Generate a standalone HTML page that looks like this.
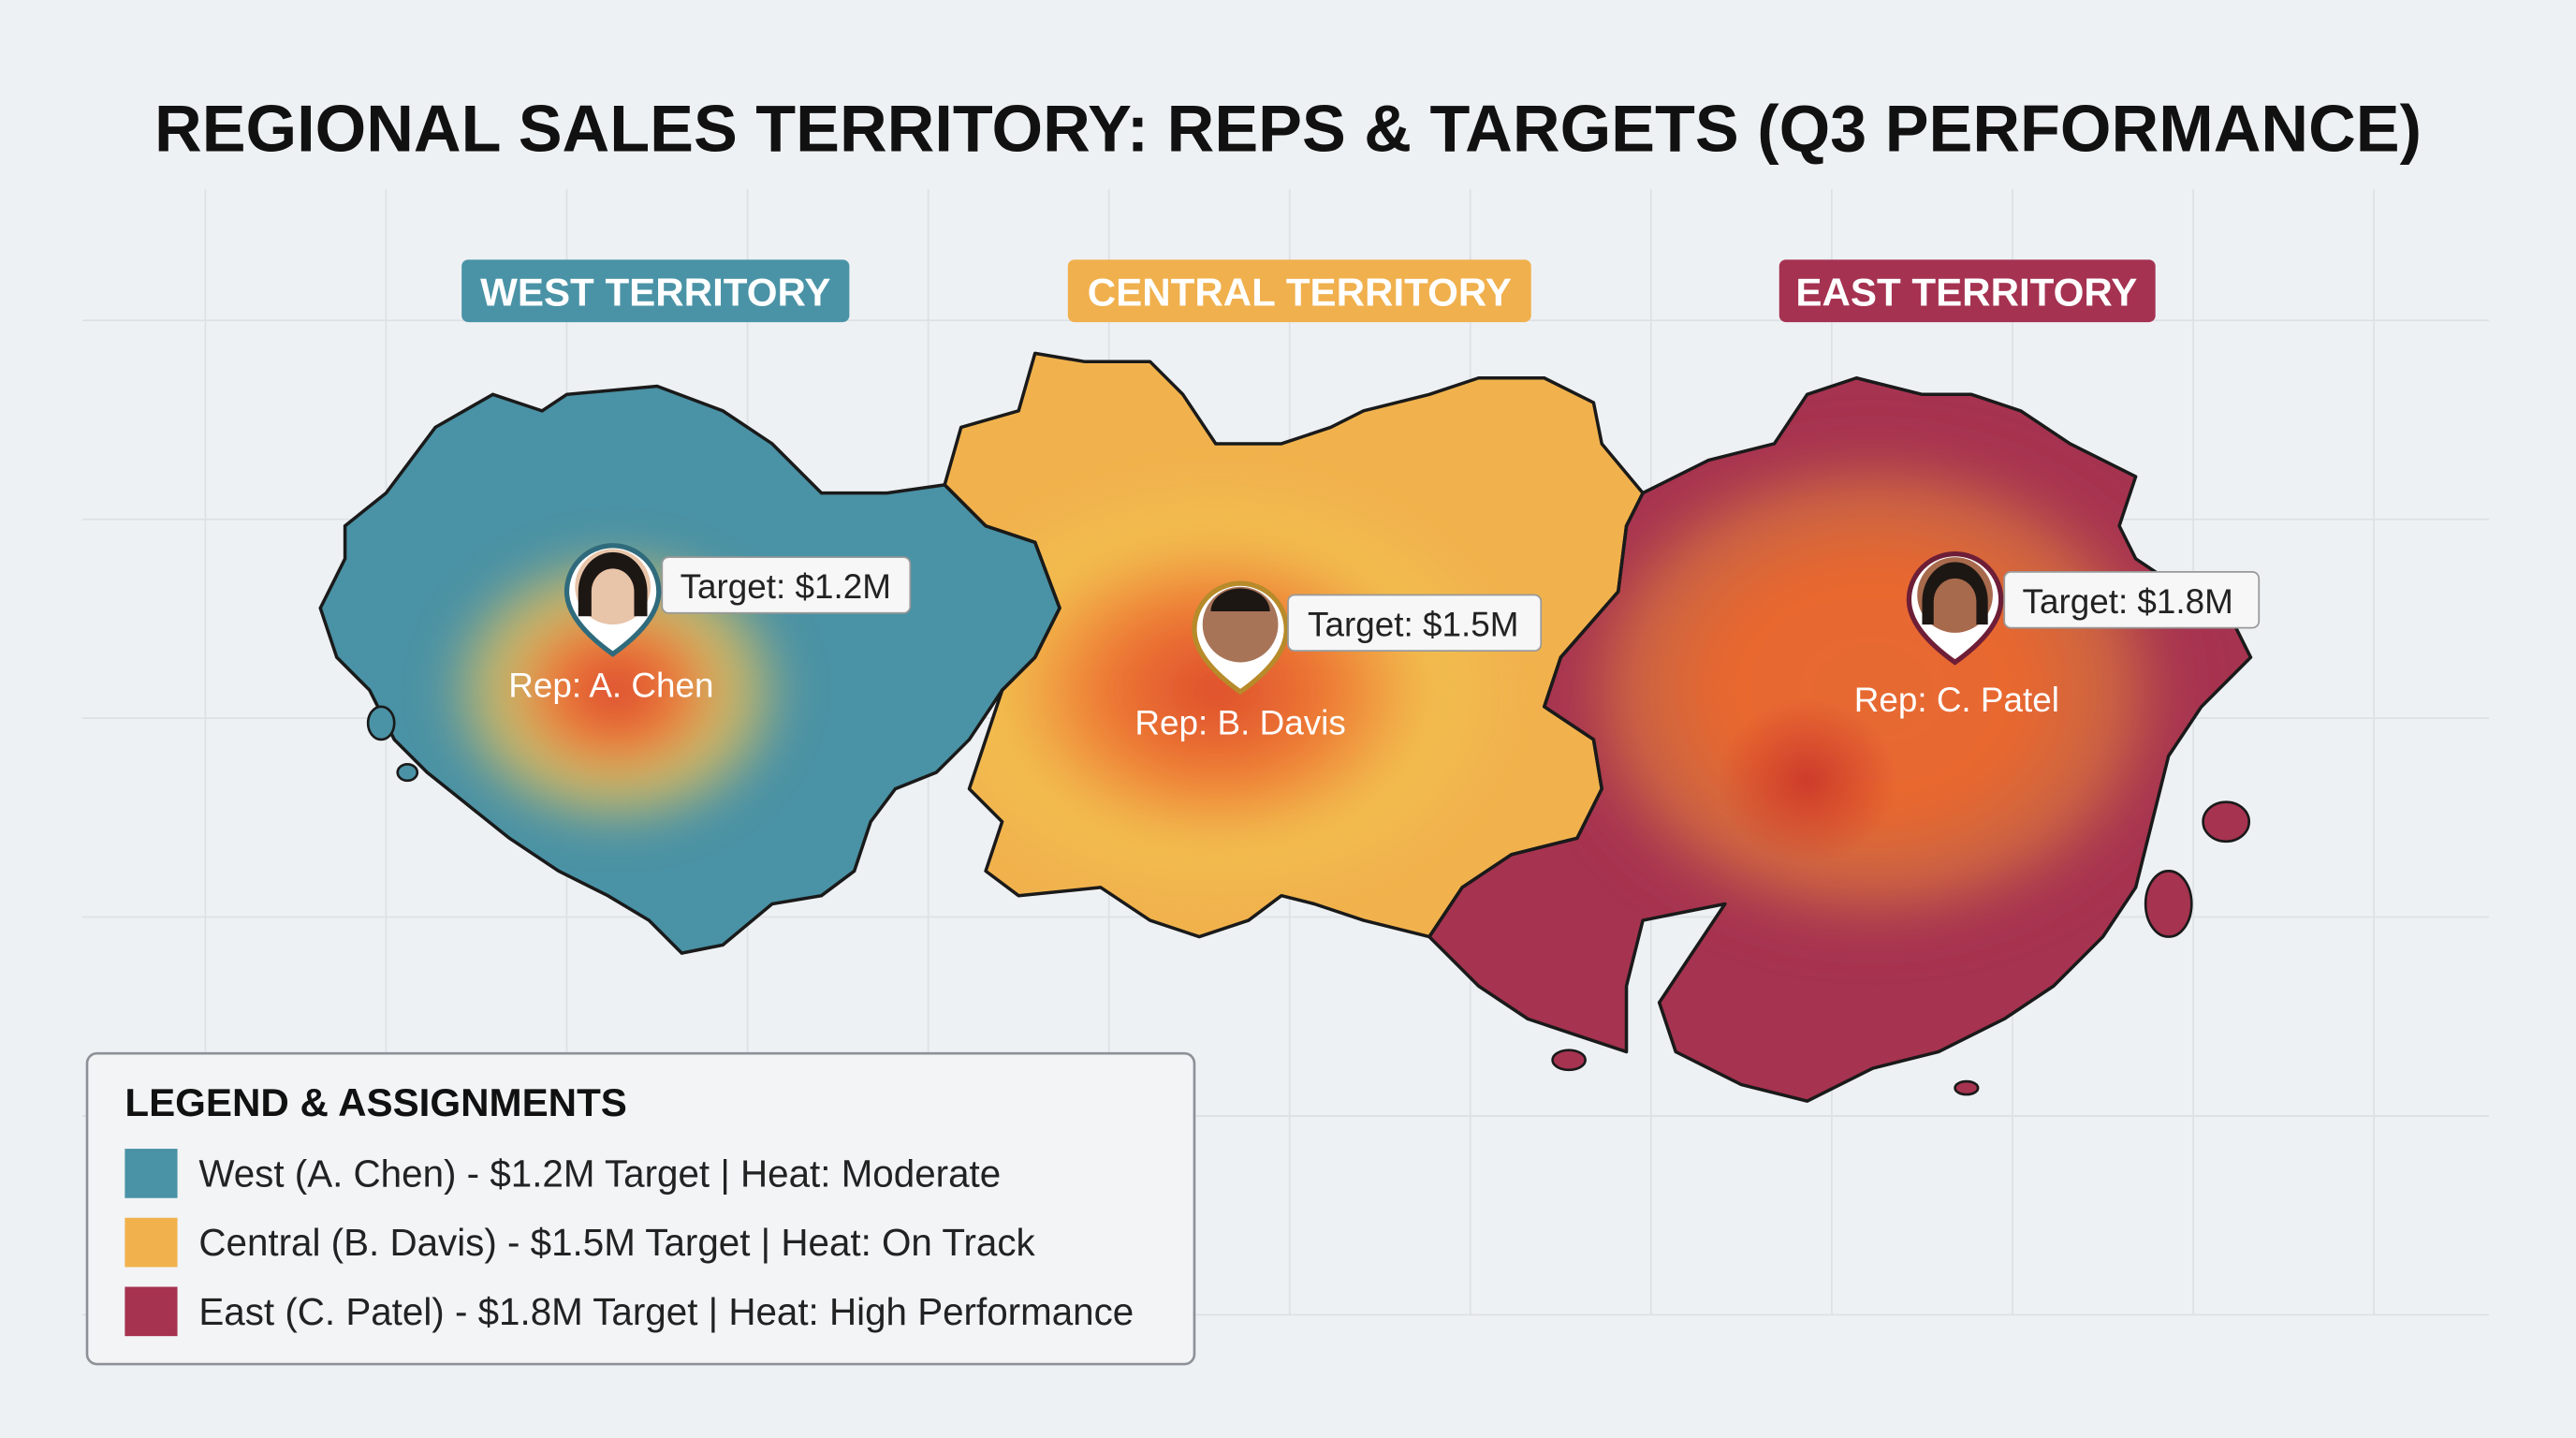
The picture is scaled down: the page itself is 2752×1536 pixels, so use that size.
<!DOCTYPE html>
<html><head><meta charset="utf-8"><style>
html,body{margin:0;padding:0;background:#eef1f4;}
svg{display:block;}
text{font-family:"Liberation Sans","DejaVu Sans",sans-serif;}
</style></head><body>
<svg width="2752" height="1536" viewBox="0 0 1568 875" preserveAspectRatio="none" xmlns="http://www.w3.org/2000/svg">
<defs>
<radialGradient id="hw" cx="0.5" cy="0.5" r="0.5">
<stop offset="0" stop-color="#d9442f"/><stop offset="0.35" stop-color="#ec7a3a"/><stop offset="0.65" stop-color="#e9c25a" stop-opacity="0.8"/><stop offset="1" stop-color="#e9c25a" stop-opacity="0"/></radialGradient>
<radialGradient id="hc" cx="0.5" cy="0.5" r="0.5">
<stop offset="0" stop-color="#dd4a2c"/><stop offset="0.4" stop-color="#ee7c35"/><stop offset="0.75" stop-color="#f2c24f" stop-opacity="0.8"/><stop offset="1" stop-color="#f2c24f" stop-opacity="0"/></radialGradient>
<radialGradient id="he" cx="0.5" cy="0.5" r="0.5">
<stop offset="0" stop-color="#e66a32"/><stop offset="0.45" stop-color="#e9672f"/><stop offset="0.75" stop-color="#e0803c" stop-opacity="0.6"/><stop offset="1" stop-color="#a8344f" stop-opacity="0"/></radialGradient>
<radialGradient id="hr" cx="0.5" cy="0.5" r="0.5">
<stop offset="0" stop-color="#c8342a" stop-opacity="0.85"/><stop offset="1" stop-color="#c8342a" stop-opacity="0"/></radialGradient>
<clipPath id="cw"><polygon id="pw" points="210,320 235,300 265,260 300,240 330,250 345,240 400,235 440,250 470,270 500,300 540,300 575,295 600,320 630,330 645,370 630,400 610,420 590,450 570,470 545,480 530,500 520,530 500,545 470,550 440,575 415,580 395,560 370,545 340,530 310,510 285,490 260,470 240,450 225,420 205,400 195,370 210,340"/></clipPath>
<clipPath id="cc"><polygon points="575,295 585,260 620,250 630,215 660,220 700,220 720,240 740,270 780,270 810,260 830,250 870,240 900,230 940,230 970,245 975,270 1000,300 990,320 985,360 950,400 940,430 970,450 975,480 960,510 920,520 890,540 870,570 830,560 800,550 780,545 760,560 730,570 700,560 670,540 620,545 600,530 610,500 590,480 600,450 610,420 630,400 645,370 630,330 600,320"/></clipPath>
<clipPath id="ce"><polygon points="1000,300 1040,280 1080,270 1100,240 1130,230 1170,240 1200,240 1230,250 1260,270 1300,290 1290,320 1300,340 1330,360 1360,380 1370,400 1340,430 1320,460 1310,500 1300,540 1280,570 1250,600 1220,620 1180,640 1140,650 1100,670 1060,660 1020,640 1010,610 1030,580 1050,550 1000,560 990,600 990,640 960,630 930,620 900,600 880,580 870,570 890,540 920,520 960,510 975,480 970,450 940,430 950,400 985,360 990,320"/></clipPath>
<filter id="bl" x="-50%" y="-50%" width="200%" height="200%"><feGaussianBlur stdDeviation="12"/></filter>
</defs>
<rect width="1568" height="875" fill="#eef1f4"/>
<g stroke="#dde1e6" stroke-width="1">
<line x1="125" y1="115" x2="125" y2="800"/><line x1="235" y1="115" x2="235" y2="800"/><line x1="345" y1="115" x2="345" y2="800"/><line x1="455" y1="115" x2="455" y2="800"/><line x1="565" y1="115" x2="565" y2="800"/><line x1="675" y1="115" x2="675" y2="800"/><line x1="785" y1="115" x2="785" y2="800"/><line x1="895" y1="115" x2="895" y2="800"/><line x1="1005" y1="115" x2="1005" y2="800"/><line x1="1115" y1="115" x2="1115" y2="800"/><line x1="1225" y1="115" x2="1225" y2="800"/><line x1="1335" y1="115" x2="1335" y2="800"/><line x1="1445" y1="115" x2="1445" y2="800"/>
<line x1="50" y1="195" x2="1515" y2="195"/><line x1="50" y1="316" x2="1515" y2="316"/><line x1="50" y1="437" x2="1515" y2="437"/><line x1="50" y1="558" x2="1515" y2="558"/><line x1="50" y1="679" x2="1515" y2="679"/><line x1="50" y1="800" x2="1515" y2="800"/>
</g>
<text x="784" y="92" text-anchor="middle" font-size="40" font-weight="bold" fill="#111">REGIONAL SALES TERRITORY: REPS &amp; TARGETS (Q3 PERFORMANCE)</text>
<rect x="281" y="158" width="236" height="38" rx="4" fill="#4a93a6"/><text x="399" y="186" text-anchor="middle" font-size="24" font-weight="bold" fill="#fff">WEST TERRITORY</text>
<rect x="650" y="158" width="282" height="38" rx="4" fill="#f0b04d"/><text x="791" y="186" text-anchor="middle" font-size="24" font-weight="bold" fill="#fff">CENTRAL TERRITORY</text>
<rect x="1083" y="158" width="229" height="38" rx="4" fill="#a53251"/><text x="1197" y="186" text-anchor="middle" font-size="24" font-weight="bold" fill="#fff">EAST TERRITORY</text>
<g clip-path="url(#cw)"><rect x="0" y="0" width="1568" height="875" fill="#4a92a5"/><ellipse cx="375" cy="420" rx="110" ry="90" fill="url(#hw)" filter="url(#bl)"/></g>
<g clip-path="url(#cc)"><rect x="0" y="0" width="1568" height="875" fill="#f1b24d"/><ellipse cx="740" cy="420" rx="180" ry="130" fill="url(#hc)" filter="url(#bl)"/></g>
<g clip-path="url(#ce)"><rect x="0" y="0" width="1568" height="875" fill="#a63350"/><ellipse cx="1140" cy="420" rx="200" ry="160" fill="url(#he)" filter="url(#bl)"/><ellipse cx="1100" cy="475" rx="55" ry="50" fill="url(#hr)"/></g>
<g fill="none" stroke="#1a1a1a" stroke-width="2">
<use href="#pw"/>
</g>
<g fill="none" stroke="#1a1a1a" stroke-width="2" stroke-linejoin="round">
<polygon points="575,295 585,260 620,250 630,215 660,220 700,220 720,240 740,270 780,270 810,260 830,250 870,240 900,230 940,230 970,245 975,270 1000,300 990,320 985,360 950,400 940,430 970,450 975,480 960,510 920,520 890,540 870,570 830,560 800,550 780,545 760,560 730,570 700,560 670,540 620,545 600,530 610,500 590,480 600,450 610,420 630,400 645,370 630,330 600,320"/>
<polygon points="1000,300 1040,280 1080,270 1100,240 1130,230 1170,240 1200,240 1230,250 1260,270 1300,290 1290,320 1300,340 1330,360 1360,380 1370,400 1340,430 1320,460 1310,500 1300,540 1280,570 1250,600 1220,620 1180,640 1140,650 1100,670 1060,660 1020,640 1010,610 1030,580 1050,550 1000,560 990,600 990,640 960,630 930,620 900,600 880,580 870,570 890,540 920,520 960,510 975,480 970,450 940,430 950,400 985,360 990,320"/>
</g>
<g fill="#4a92a5" stroke="#1a1a1a" stroke-width="1.5"><ellipse cx="232" cy="440" rx="8" ry="10"/><ellipse cx="248" cy="470" rx="6" ry="5"/></g>
<g fill="#a63350" stroke="#1a1a1a" stroke-width="1.5"><ellipse cx="1355" cy="500" rx="14" ry="12"/><ellipse cx="1320" cy="550" rx="14" ry="20"/><ellipse cx="955" cy="645" rx="10" ry="6"/><ellipse cx="1197" cy="662" rx="7" ry="4"/></g>
<g stroke-width="3">
<path d="M345,360 a28,28 0 1 1 56,0 q0,18 -28,38 q-28,-20 -28,-38z" fill="#fff" stroke="#2f6b7c"/>
<circle cx="373" cy="357" r="23" fill="#e8c4a8"/><path d="M352,360 a21,24 0 0 1 42,0 l0,15 -8,0 0,-15 a13,14 0 0 0 -26,0 l0,15 -8,0z" fill="#1d1714" stroke="none"/>
<path d="M727,383 a28,28 0 1 1 56,0 q0,18 -28,38 q-28,-20 -28,-38z" fill="#fff" stroke="#b78a2a"/>
<circle cx="755" cy="380" r="23" fill="#a87458"/><path d="M737,372 a18,14 0 0 1 36,0z" fill="#1d1714" stroke="none"/>
<path d="M1162,365 a28,28 0 1 1 56,0 q0,18 -28,38 q-28,-20 -28,-38z" fill="#fff" stroke="#6e1e36"/>
<circle cx="1190" cy="362" r="23" fill="#a86a4c"/><path d="M1170,366 a20,24 0 0 1 40,0 l0,14 -7,0 0,-14 a13,14 0 0 0 -26,0 l0,14 -7,0z" fill="#1d1714" stroke="none"/>
</g>
<g font-size="21" fill="#222">
<rect x="403" y="339" width="151" height="34" rx="4" fill="#f7f7f7" stroke="#999"/><text x="414" y="364">Target: $1.2M</text>
<rect x="784" y="362" width="154" height="34" rx="4" fill="#f7f7f7" stroke="#999"/><text x="796" y="387">Target: $1.5M</text>
<rect x="1220" y="348" width="155" height="34" rx="4" fill="#f7f7f7" stroke="#999"/><text x="1231" y="373">Target: $1.8M</text>
</g>
<g font-size="21" fill="#fff">
<text x="372" y="424" text-anchor="middle">Rep: A. Chen</text>
<text x="755" y="447" text-anchor="middle">Rep: B. Davis</text>
<text x="1191" y="433" text-anchor="middle">Rep: C. Patel</text>
</g>
<rect x="53" y="641" width="674" height="189" rx="6" fill="#f2f4f6" stroke="#8d9198" stroke-width="1.5"/>
<text x="76" y="679" font-size="24" font-weight="bold" fill="#111">LEGEND &amp; ASSIGNMENTS</text>
<rect x="76" y="699" width="32" height="30" fill="#4a92a5"/><text x="121" y="722" font-size="23" fill="#222">West (A. Chen) - $1.2M Target | Heat: Moderate</text>
<rect x="76" y="741" width="32" height="30" fill="#f1b24d"/><text x="121" y="764" font-size="23" fill="#222">Central (B. Davis) - $1.5M Target | Heat: On Track</text>
<rect x="76" y="783" width="32" height="30" fill="#a63350"/><text x="121" y="806" font-size="23" fill="#222">East (C. Patel) - $1.8M Target | Heat: High Performance</text>
</svg>
</body></html>
